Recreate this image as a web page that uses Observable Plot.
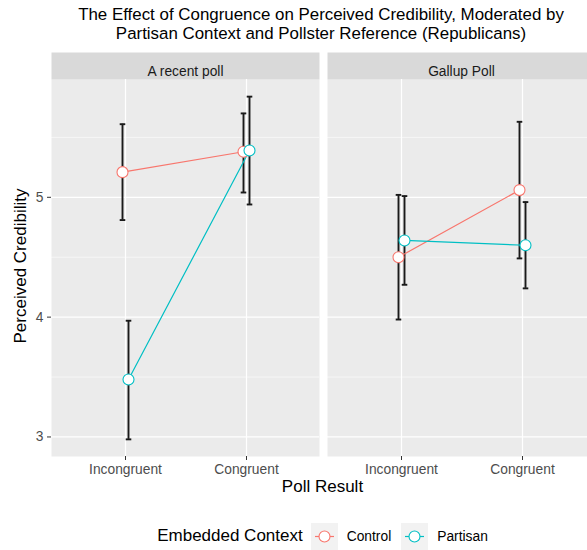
<!DOCTYPE html>
<html><head><meta charset="utf-8">
<script src="https://cdn.jsdelivr.net/npm/d3@7"></script>
<script src="https://cdn.jsdelivr.net/npm/@observablehq/plot@0.6"></script>
<style>
html,body{margin:0;padding:0;background:#fff;overflow:hidden;}
body{font-family:"Liberation Sans", Arial, Helvetica, sans-serif;color:#000;}
#wrap{position:relative;width:595px;height:550px;overflow:hidden;}
#title{position:absolute;left:47px;width:548px;top:5px;text-align:center;font-size:16.9px;line-height:19px;}
#chart{position:absolute;left:0;top:48px;}
#xtitle{position:absolute;left:50px;width:545px;top:477.5px;text-align:center;font-size:17px;line-height:17px;}
#ytitle{position:absolute;left:20px;top:266px;transform:translate(-50%,-50%) rotate(-90deg);white-space:nowrap;font-size:17px;line-height:17px;}
#legend{position:absolute;left:50px;width:545px;top:522px;height:28px;display:flex;justify-content:center;align-items:center;}
</style></head>
<body><div id="wrap">
<div id="title">The Effect of Congruence on Perceived Credibility, Moderated by<br>Partisan Context and Pollster Reference (Republicans)</div>
<div id="chart"></div>
<div id="ytitle">Perceived Credibility</div>
<div id="xtitle">Poll Result</div>
<div id="legend"></div>
</div>
<script>
const pollsters = ["A recent poll", "Gallup Poll"];
const results = ["Incongruent", "Congruent"];
const contexts = ["Control", "Partisan"];
const contextColors = ["#F8766D", "#00BFC4"];
const legendTitle = "Embedded Context";

// one entry per pollster × context × result
const rowPollster = ["A recent poll", "A recent poll", "A recent poll", "A recent poll", "Gallup Poll", "Gallup Poll", "Gallup Poll", "Gallup Poll"];
const rowContext = ["Control", "Control", "Partisan", "Partisan", "Control", "Control", "Partisan", "Partisan"];
const rowResult = ["Incongruent", "Congruent", "Incongruent", "Congruent", "Incongruent", "Congruent", "Incongruent", "Congruent"];
const meanValues = [5.21, 5.38, 3.48, 5.39, 4.50, 5.06, 4.64, 4.60];
const lowerValues = [4.81, 5.04, 2.98, 4.94, 3.98, 4.49, 4.27, 4.24];
const upperValues = [5.61, 5.70, 3.97, 5.84, 5.02, 5.63, 5.01, 4.96];

const majorTicks = [3, 4, 5];
const majorTickLabels = ["3", "4", "5"];
const minorTicks = [3.5, 4.5, 5.5];

const rows = meanValues.map((m, i) => ({
  pollster: rowPollster[i], context: rowContext[i], result: rowResult[i],
  mean: m, lower: lowerValues[i], upper: upperValues[i]
}));

const lo = d3.min(lowerValues), hi = d3.max(upperValues);
const pad = (hi - lo) * 0.05;
const yDomain = [lo - pad, hi + pad];

const W = 595, H = 440, mt = 31, mb = 32, ml = 50, mr = 0;
const panelH = H - mt - mb;
const dodge = [-3, 3];
const capSymbol = {draw(ctx) { ctx.moveTo(-2.8, 0); ctx.lineTo(2.8, 0); }};

const errMarks = [], lineMarks = [], dotMarks = [];
contexts.forEach((c, k) => {
  const d = rows.filter(r => r.context === c);
  const common = {fx: "pollster", x: "result", dx: dodge[k]};
  errMarks.push(Plot.ruleX(d, {...common, y1: "lower", y2: "upper", stroke: "#1A1A1A", strokeWidth: 1.9}));
  errMarks.push(Plot.dot(d, {...common, y: "lower", symbol: capSymbol, r: 3, fill: "none", stroke: "#1A1A1A", strokeWidth: 1.9}));
  errMarks.push(Plot.dot(d, {...common, y: "upper", symbol: capSymbol, r: 3, fill: "none", stroke: "#1A1A1A", strokeWidth: 1.9}));
  lineMarks.push(Plot.line(d, {...common, y: "mean", stroke: contextColors[k], strokeWidth: 1.2}));
  dotMarks.push(Plot.dot(d, {...common, y: "mean", r: 5.5, fill: "white", stroke: contextColors[k], strokeWidth: 1.1}));
});

const chart = Plot.plot({
  width: W, height: H,
  marginTop: mt, marginBottom: mb, marginLeft: ml, marginRight: mr,
  style: {fontFamily: '"Liberation Sans", Arial, Helvetica, sans-serif', fontSize: "13.8px", background: "transparent"},
  x: {type: "point", domain: results, padding: 0.6},
  y: {domain: yDomain},
  fx: {domain: pollsters, paddingInner: 0.029, paddingOuter: 0, axis: null, label: null},
  marks: [
    Plot.frame({fill: "#EBEBEB", stroke: "none"}),
    Plot.frame({fill: "#D9D9D9", stroke: "none", insetTop: -27, insetBottom: panelH}),
    Plot.text(pollsters, {fx: d => d, text: d => d, frameAnchor: "top", dy: -13.5, fill: "#1A1A1A", fontSize: 13.8}),
    Plot.ruleY(minorTicks, {stroke: "white", strokeWidth: 0.6}),
    Plot.ruleY(majorTicks, {stroke: "white", strokeWidth: 1.2}),
    Plot.ruleX(results, {stroke: "white", strokeWidth: 1.2}),
    Plot.axisY({ticks: majorTicks, tickFormat: v => majorTickLabels[majorTicks.indexOf(v)], tickSize: 4, tickPadding: 4, stroke: "#333333", fill: "#4D4D4D", fontSize: 13.8, label: null}),
    Plot.axisX({tickSize: 4, tickPadding: 3.5, stroke: "#333333", fill: "#4D4D4D", fontSize: 13.8, label: null}),
    ...errMarks,
    ...lineMarks,
    ...dotMarks
  ]
});
document.getElementById("chart").appendChild(chart);

const legend = document.getElementById("legend");
legend.innerHTML = `<span style="font-size:17px;margin-right:8px">${legendTitle}</span>` +
  contexts.map((c, i) =>
    `<svg width="27" height="27" style="background:#F2F2F2;display:block"><line x1="4" x2="23" y1="13.5" y2="13.5" stroke="${contextColors[i]}" stroke-width="1.2"/><circle cx="13.5" cy="13.5" r="5.5" fill="white" stroke="${contextColors[i]}" stroke-width="1.1"/></svg>` +
    `<span style="font-size:13.8px;margin-left:9px;${i < contexts.length - 1 ? "margin-right:10px" : ""}">${c}</span>`
  ).join("");
</script>
</body></html>
